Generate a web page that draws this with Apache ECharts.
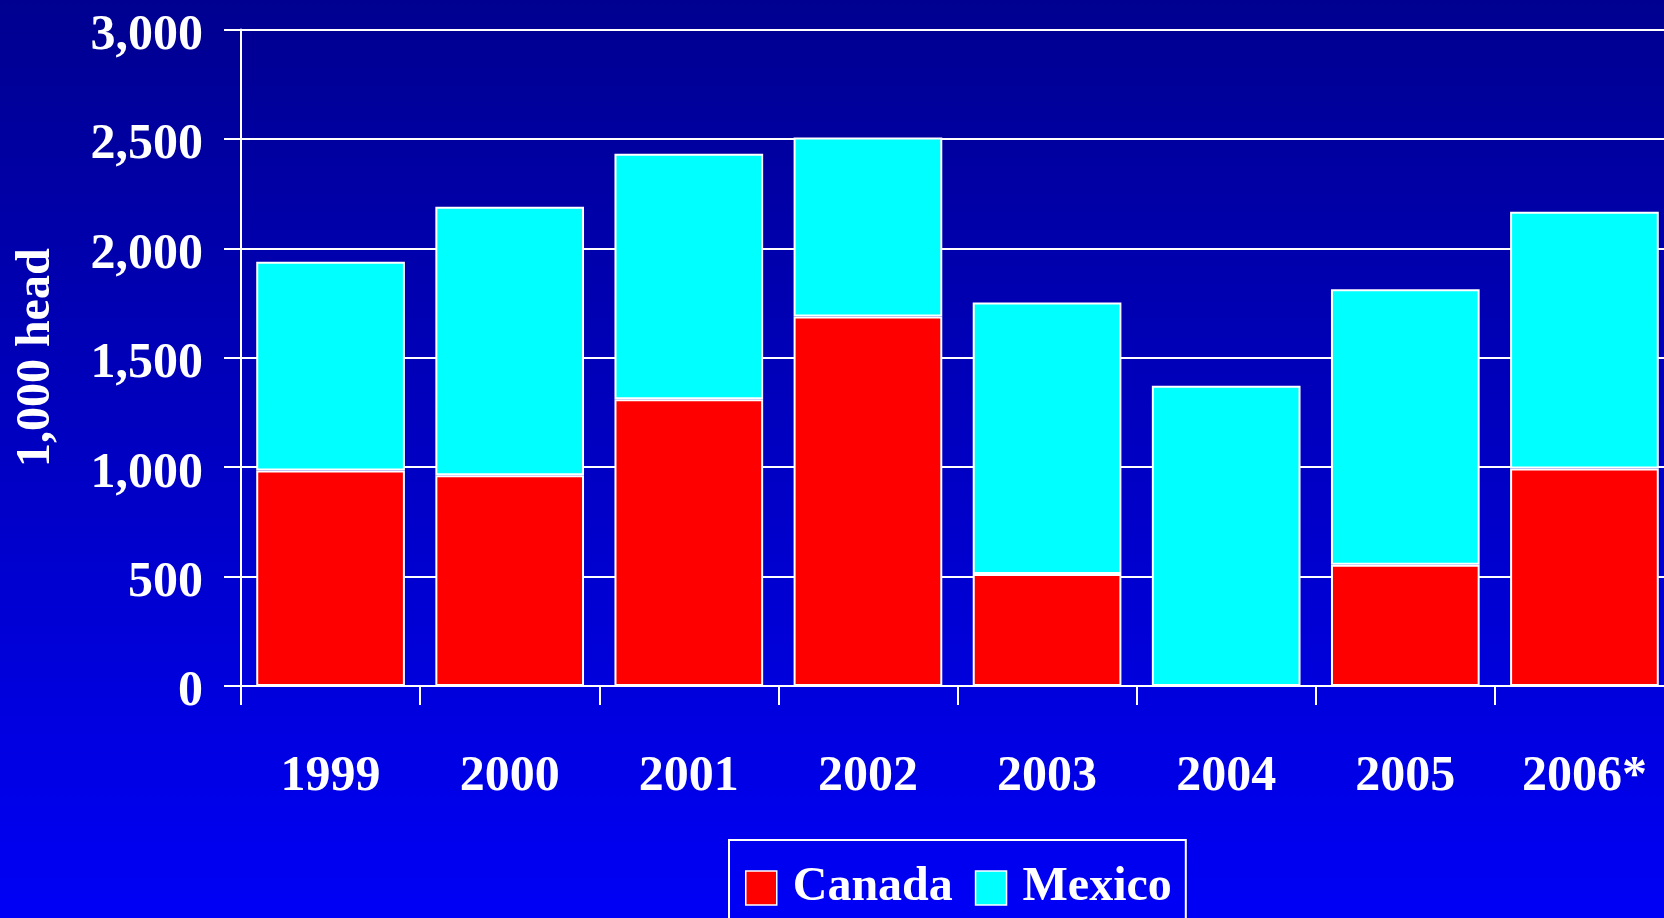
<!DOCTYPE html>
<html>
<head>
<meta charset="utf-8">
<script src="https://cdn.jsdelivr.net/npm/echarts@6/dist/echarts.min.js"></script>
<style>
  html, body { margin: 0; padding: 0; overflow: hidden; }
  /* 比窗口略宽，最后一根柱子右侧被裁掉 */
  #chart { width: 1690px; height: 918px; }
</style>
</head>
<body>
<div id="chart"></div>
<script>
// 年份
var years = ['1999', '2000', '2001', '2002', '2003', '2004', '2005', '2006*'];
// 1,000 head
var canada = [985, 963, 1310, 1688, 512, 0, 554, 994];
var mexico = [954, 1227, 1122, 819, 1241, 1372, 1259, 1173];
var yTicks = [0, 500, 1000, 1500, 2000, 2500, 3000];

var font = '"Liberation Serif", "Times New Roman", serif';
var chart = echarts.init(document.getElementById('chart'));

var option = {
	backgroundColor: new echarts.graphic.LinearGradient(0, 0, 0, 1, [
		{ offset: 0, color: '#000090' },
		{ offset: 1, color: '#0000f6' }
	]),
	animation: false,
	grid: { left: 241, top: 29.5, width: 1433, height: 656.5 },
	legend: {
		left: 729, top: 840,
		data: ['Canada', 'Mexico'],
		icon: 'rect',
		itemWidth: 31, itemHeight: 34, itemGap: 22,
		borderColor: '#fff', borderWidth: 2,
		padding: [24, 14, 40, 16],
		itemStyle: { borderColor: '#fff', borderWidth: 1.5 },
		textStyle: { color: '#fff', fontFamily: font, fontWeight: 'bold', fontSize: 48, padding: [0, 0, 0, 11] }
	},
	xAxis: {
		type: 'category',
		data: years,
		axisLine: { lineStyle: { color: '#fff', width: 2 } },
		axisTick: { show: true, length: 19, lineStyle: { color: '#fff', width: 2 } },
		axisLabel: { color: '#fff', fontFamily: font, fontWeight: 'bold', fontSize: 50, margin: 66 }
	},
	yAxis: {
		type: 'value',
		min: yTicks[0], max: yTicks[yTicks.length - 1], interval: 500,
		name: '1,000 head',
		nameLocation: 'middle', nameRotate: 90, nameGap: 180,
		nameTextStyle: { color: '#fff', fontFamily: font, fontWeight: 'bold', fontSize: 48 },
		axisLine: { show: true, lineStyle: { color: '#fff', width: 2 } },
		axisTick: { show: true, length: 17, lineStyle: { color: '#fff', width: 2 } },
		splitLine: { lineStyle: { color: '#fff', width: 2 } },
		axisLabel: {
			color: '#fff', fontFamily: font, fontWeight: 'bold', fontSize: 50, margin: 38,
			verticalAlign: 'top', lineHeight: 13,
			formatter: function (v) { return v.toLocaleString('en-US'); }
		}
	},
	series: [
		{
			name: 'Canada', type: 'bar', stack: 'total', data: canada, barWidth: '83%',
			itemStyle: { color: '#ff0000', borderColor: '#fff', borderWidth: 2 }
		},
		{
			name: 'Mexico', type: 'bar', stack: 'total', data: mexico, barWidth: '83%',
			itemStyle: { color: '#00ffff', borderColor: '#fff', borderWidth: 2 }
		}
	]
};

chart.setOption(option);
</script>
</body>
</html>
